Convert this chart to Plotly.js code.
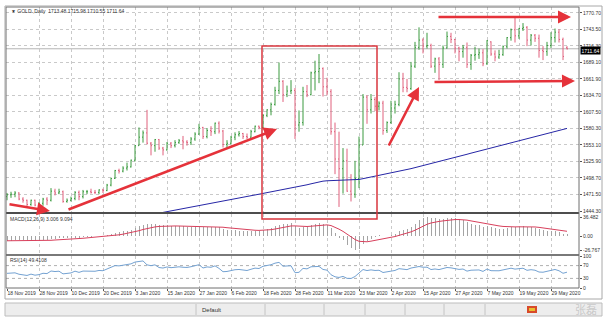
<!DOCTYPE html>
<html><head><meta charset="utf-8">
<script src="https://cdn.plot.ly/plotly-3.0.1.min.js"></script>
<style>html,body{margin:0;padding:0;background:#fff;}#chart{width:613px;height:323px;}</style>
</head><body><div id="chart"></div>
<script>
// ---------- data ----------
const dates = [
'18 Nov 2019','19 Nov 2019','20 Nov 2019','21 Nov 2019','22 Nov 2019','25 Nov 2019','26 Nov 2019','27 Nov 2019','28 Nov 2019','29 Nov 2019',
'2 Dec 2019','3 Dec 2019','4 Dec 2019','5 Dec 2019','6 Dec 2019','9 Dec 2019','10 Dec 2019','11 Dec 2019','12 Dec 2019','13 Dec 2019','16 Dec 2019','17 Dec 2019','18 Dec 2019','19 Dec 2019','20 Dec 2019','23 Dec 2019','24 Dec 2019','26 Dec 2019','27 Dec 2019','30 Dec 2019','31 Dec 2019',
'2 Jan 2020','3 Jan 2020','6 Jan 2020','7 Jan 2020','8 Jan 2020','9 Jan 2020','10 Jan 2020','13 Jan 2020','14 Jan 2020','15 Jan 2020','16 Jan 2020','17 Jan 2020','20 Jan 2020','21 Jan 2020','22 Jan 2020','23 Jan 2020','24 Jan 2020','27 Jan 2020','28 Jan 2020','29 Jan 2020','30 Jan 2020','31 Jan 2020',
'3 Feb 2020','4 Feb 2020','5 Feb 2020','6 Feb 2020','7 Feb 2020','10 Feb 2020','11 Feb 2020','12 Feb 2020','13 Feb 2020','14 Feb 2020','17 Feb 2020','18 Feb 2020','19 Feb 2020','20 Feb 2020','21 Feb 2020','24 Feb 2020','25 Feb 2020','26 Feb 2020','27 Feb 2020','28 Feb 2020',
'2 Mar 2020','3 Mar 2020','4 Mar 2020','5 Mar 2020','6 Mar 2020','9 Mar 2020','10 Mar 2020','11 Mar 2020','12 Mar 2020','13 Mar 2020','16 Mar 2020','17 Mar 2020','18 Mar 2020','19 Mar 2020','20 Mar 2020','23 Mar 2020','24 Mar 2020','25 Mar 2020','26 Mar 2020','27 Mar 2020','30 Mar 2020','31 Mar 2020',
'1 Apr 2020','2 Apr 2020','3 Apr 2020','6 Apr 2020','7 Apr 2020','8 Apr 2020','9 Apr 2020','13 Apr 2020','14 Apr 2020','15 Apr 2020','16 Apr 2020','17 Apr 2020','20 Apr 2020','21 Apr 2020','22 Apr 2020','23 Apr 2020','24 Apr 2020','27 Apr 2020','28 Apr 2020','29 Apr 2020','30 Apr 2020',
'1 May 2020','4 May 2020','5 May 2020','6 May 2020','7 May 2020','8 May 2020','11 May 2020','12 May 2020','13 May 2020','14 May 2020','15 May 2020','18 May 2020','19 May 2020','20 May 2020','21 May 2020','22 May 2020','25 May 2020','26 May 2020','27 May 2020','28 May 2020','29 May 2020',
'1 Jun 2020','2 Jun 2020','3 Jun 2020','4 Jun 2020'];

const open = [1468,1471,1472,1474,1464,1462,1455,1462,1454,1457,
1464,1462,1477,1474,1476,1460,1462,1465,1475,1468,1476,1476,1475,1475,1479,1478,1487,1498,1511,1510,1515,
1517,1528,1552,1566,1573,1556,1552,1562,1548,1545,1556,1552,1557,1560,1558,1557,1563,1571,1582,1567,1577,1575,
1589,1576,1554,1556,1566,1570,1572,1567,1566,1575,1584,1582,1602,1611,1620,1643,1658,1636,1642,1643,
1586,1590,1641,1636,1672,1674,1679,1649,1641,1575,1530,1514,1527,1477,1472,1498,1553,1632,1611,1628,1617,1622,
1577,1590,1614,1620,1662,1648,1646,1683,1714,1726,1716,1717,1683,1695,1686,1713,1732,1727,1713,1707,1714,
1686,1701,1702,1705,1687,1723,1703,1698,1702,1715,1730,1743,1733,1745,1747,1726,1734,1729,1709,1707,1717,
1730,1739,1727,1713.48];
const high = [1474,1476,1477,1475,1467,1463,1463,1463,1459,1466,
1467,1482,1481,1481,1478,1465,1468,1477,1478,1479,1479,1481,1479,1480,1481,1489,1499,1512,1514,1518,1524,
1529,1553,1582,1577,1611,1558,1563,1563,1550,1558,1558,1561,1563,1568,1561,1566,1574,1588,1583,1581,1584,1590,
1592,1578,1561,1568,1574,1576,1573,1572,1578,1585,1585,1604,1612,1623,1649,1689,1660,1651,1660,1647,
1610,1649,1652,1674,1692,1703,1681,1664,1645,1590,1575,1548,1547,1505,1527,1567,1637,1635,1637,1632,1625,1626,
1592,1626,1626,1673,1672,1662,1690,1723,1747,1729,1738,1720,1697,1698,1717,1740,1738,1728,1715,1718,1722,
1703,1715,1712,1711,1726,1724,1709,1710,1717,1731,1745,1765,1746,1754,1749,1736,1736,1735,1716,1723,1739,
1745,1744,1730,1715.98];
const low = [1462,1466,1467,1462,1458,1451,1453,1452,1453,1453,
1454,1460,1470,1472,1458,1458,1460,1462,1462,1465,1472,1473,1472,1472,1474,1477,1485,1497,1506,1508,1511,
1516,1526,1552,1557,1554,1536,1542,1545,1536,1544,1548,1549,1555,1546,1552,1553,1560,1570,1563,1564,1568,1571,
1572,1549,1547,1554,1561,1567,1563,1563,1565,1574,1579,1579,1599,1602,1618,1637,1624,1632,1637,1563,
1575,1585,1632,1635,1643,1655,1633,1635,1570,1505,1451,1473,1476,1460,1466,1482,1553,1588,1605,1609,1610,1570,
1573,1588,1605,1617,1640,1640,1644,1680,1710,1704,1712,1680,1672,1660,1680,1712,1721,1704,1691,1697,1680,
1677,1692,1695,1683,1685,1700,1691,1695,1700,1712,1725,1722,1728,1741,1716,1717,1723,1697,1693,1700,1713,
1722,1722,1693,1710.55];
const close = [1471,1472,1474,1464,1462,1455,1462,1454,1457,1464,
1462,1477,1474,1476,1460,1462,1465,1475,1468,1476,1476,1475,1475,1479,1478,1487,1498,1511,1510,1515,1517,
1528,1552,1566,1573,1556,1552,1562,1548,1545,1556,1552,1557,1560,1558,1557,1563,1571,1582,1567,1577,1575,1589,
1576,1554,1556,1566,1570,1572,1567,1566,1575,1584,1582,1602,1611,1620,1643,1658,1636,1642,1643,1586,
1590,1641,1636,1672,1674,1679,1649,1641,1575,1530,1514,1527,1477,1472,1498,1553,1632,1611,1628,1617,1622,1577,
1590,1614,1620,1662,1648,1646,1683,1714,1726,1716,1717,1683,1695,1686,1713,1732,1727,1713,1707,1714,1686,
1701,1702,1705,1687,1725,1703,1698,1702,1715,1730,1743,1733,1745,1747,1726,1734,1729,1709,1707,1717,1730,
1739,1727,1699,1711.64];

// blue moving average (only visible from late January on)
const maLine = [null,null,null,null,null,null,null,null,null,null,
null,null,null,null,null,null,null,null,null,null,null,null,null,null,null,null,null,null,null,null,null,
null,null,null,null,null,1438.2,1439.5,1440.8,1442.1,1443.4,1444.7,1446.0,1447.2,1448.5,1449.8,1451.1,1452.4,1453.7,1455.0,1456.2,1457.5,1458.8,
1460.0,1461.2,1462.4,1463.6,1464.8,1466.0,1467.1,1468.3,1469.5,1470.7,1471.9,1473.1,1474.3,1475.5,1476.8,1478.1,1479.3,1480.5,1481.8,1483.0,
1484.3,1485.9,1487.5,1489.1,1490.7,1492.2,1493.5,1494.1,1494.4,1494.6,1494.8,1495.0,1495.2,1495.4,1495.7,1496.3,1497.6,1498.9,1500.2,1501.5,1502.8,1504.0,
1505.2,1506.4,1507.7,1509.0,1510.6,1512.3,1514.1,1515.8,1517.4,1519.2,1520.9,1522.5,1524.3,1526.0,1527.6,1529.4,1531.1,1532.7,1534.5,1536.2,1537.8,
1539.6,1541.3,1542.9,1544.7,1546.4,1548.0,1549.8,1551.5,1553.1,1554.9,1556.6,1558.2,1560.0,1561.7,1563.3,1565.1,1566.8,1568.4,1570.2,1571.9,1573.5,
1575.3,1577.0,1578.6,1580.4];

const macdMain = [-9.5,-8.8,-8.1,-8.3,-8.5,-9.1,-8.9,-9.3,-9.2,-8.5,
-8.0,-6.4,-5.2,-4.1,-4.5,-4.6,-4.3,-3.3,-3.0,-2.1,-1.4,-0.9,-0.5,0.2,0.6,1.6,3.3,5.6,7.3,8.9,10.2,
12.0,15.2,18.6,21.7,22.4,22.5,23.1,22.1,20.9,20.5,19.7,19.3,18.9,18.3,17.5,17.2,17.4,18.2,17.4,17.4,17.0,17.7,
16.9,14.4,12.4,11.5,11.0,10.6,9.8,9.0,9.0,9.6,9.8,11.4,13.3,15.3,18.5,22.1,22.8,23.7,24.1,19.6,
16.2,17.4,17.8,20.7,23.0,24.9,23.7,21.8,14.9,5.7,-2.9,-8.5,-16.8,-23.5,-26.767,-24.0,-15.3,-10.3,-4.8,-1.4,1.7,0.6,
0.7,2.7,4.7,9.6,12.2,14.0,18.1,23.6,31.2,34.5,36.482,35.0,34.3,32.6,33.2,34.6,35.0,33.8,31.8,30.5,26.9,
23.2,21.7,20.4,17.8,18.5,17.1,15.5,14.3,14.3,15.3,17.0,17.3,18.2,19.0,17.6,17.0,16.0,13.4,11.0,9.9,9.9,
9.0,8.0,4.5,3.006];
const macdSignal = [-9.1,-9.1,-8.9,-8.8,-8.7,-8.8,-8.8,-8.9,-9.0,-8.9,
-8.7,-8.2,-7.6,-6.9,-6.5,-6.1,-5.7,-5.2,-4.8,-4.3,-3.7,-3.1,-2.6,-2.0,-1.5,-0.9,0.0,1.1,2.3,3.6,5.0,
6.4,8.1,10.2,12.5,14.5,16.1,17.5,18.4,18.9,19.2,19.3,19.3,19.2,19.1,18.8,18.4,18.2,18.2,18.0,17.9,17.7,17.7,
17.6,16.9,16.0,15.1,14.3,13.6,12.8,12.1,11.4,11.1,10.8,10.9,11.4,12.2,13.4,15.2,16.7,18.1,19.3,19.4,
18.7,18.5,18.3,18.8,19.7,20.7,21.3,21.4,20.1,17.2,13.2,8.9,3.7,-1.7,-6.7,-10.1,-11.2,-11.0,-9.8,-8.1,-6.1,-4.8,
-3.7,-2.4,-1.0,1.1,3.4,5.5,8.0,11.1,15.1,19.0,22.5,25.0,26.9,28.0,29.0,30.1,31.1,31.6,31.6,31.4,30.5,
29.0,27.5,26.1,24.4,23.2,22.0,20.7,19.4,18.4,17.8,17.6,17.5,17.7,17.9,17.9,17.7,17.4,16.6,15.5,14.4,13.5,
12.6,11.7,10.2,9.094];

const rsi14 = [45.8,46.3,47.4,43.0,42.1,39.2,43.4,40.0,41.8,46.0,
45.0,53.1,51.4,52.5,44.2,45.4,47.1,52.6,48.8,52.9,53.0,52.3,52.3,54.8,54.0,59.4,64.8,70.0,69.1,71.0,71.6,
75.4,81.1,83.6,84.6,72.4,69.8,72.4,64.0,62.3,65.8,63.5,65.1,66.2,64.8,64.2,66.5,69.3,72.8,62.5,65.9,64.7,69.2,
61.3,50.9,51.7,55.6,57.1,57.9,55.2,54.7,58.6,62.1,60.9,67.9,70.4,72.7,77.6,80.1,68.1,69.4,69.6,47.8,
49.0,61.3,59.8,66.3,66.6,67.4,58.0,55.8,41.5,35.0,33.0,36.2,30.2,29.7,35.9,46.7,57.7,54.5,56.6,54.8,55.5,48.4,
50.4,53.9,54.8,60.4,57.8,57.4,62.3,65.8,67.1,64.9,65.0,57.7,59.4,57.5,61.5,64.1,62.9,59.6,58.1,59.3,52.7,
55.6,55.8,56.4,51.8,59.3,54.1,52.9,53.8,56.5,59.5,61.9,59.0,61.4,61.8,55.3,57.2,55.6,49.9,49.3,52.2,55.6,
57.9,53.9,46.0,49.4108];

const tickDates = ['18 Nov 2019','28 Nov 2019','10 Dec 2019','20 Dec 2019','3 Jan 2020','15 Jan 2020','27 Jan 2020','6 Feb 2020',
'18 Feb 2020','28 Feb 2020','11 Mar 2020','23 Mar 2020','2 Apr 2020','15 Apr 2020','27 Apr 2020','7 May 2020','19 May 2020','29 May 2020'];
const priceTicks = [1444.30,1471.50,1498.70,1525.90,1553.10,1580.30,1607.50,1634.70,1661.90,1689.10,1716.30,1743.50,1770.70];
const macdTicks = [36.482,0,-26.767];
const macdTickText = ['36.482','0.00','-26.767'];
const rsiTicks = [100,70,30,0];
const rsiLevels = [70,30];

// ---------- geometry helpers (pixel -> paper) ----------
const PL=6, PR=579, PT=7, PB=288;
const px = X => (X-PL)/(PR-PL);
const py = Y => (PB-Y)/(PB-PT);

const last = dates.length-1;
const f2 = v => v.toFixed(2);

const traces = [
  {type:'ohlc', x:dates, open:open, high:high, low:low, close:close, xaxis:'x', yaxis:'y',
   increasing:{line:{color:'#3a9a3f', width:1}}, decreasing:{line:{color:'#e0607c', width:1}},
   tickwidth:0.25, hoverinfo:'skip'},
  {type:'scatter', mode:'lines', x:dates, y:maLine, xaxis:'x', yaxis:'y',
   line:{color:'#2626a6', width:1}, hoverinfo:'skip', connectgaps:false},
  {type:'bar', x:dates, y:macdMain, xaxis:'x', yaxis:'y2', width:0.25,
   marker:{color:'#a4a4a4', line:{width:0}}, hoverinfo:'skip'},
  {type:'scatter', mode:'lines', x:dates, y:macdSignal, xaxis:'x', yaxis:'y2',
   line:{color:'#d8405c', width:1}, hoverinfo:'skip'},
  {type:'scatter', mode:'lines', x:dates, y:rsi14, xaxis:'x', yaxis:'y3',
   line:{color:'#74a2d2', width:1}, hoverinfo:'skip'}
];

const gridC = '#c9c9c9';
const tickFont = {family:'Liberation Sans, Arial, sans-serif', size:5, color:'#333'};

const shapes = [
  {type:'line', xref:'paper', yref:'y', x0:0, x1:1, y0:close[last], y1:close[last], line:{color:'#b4b4b4', width:1}, layer:'below'},
  ...rsiLevels.map(v => ({type:'line', xref:'paper', yref:'y3', x0:0, x1:1, y0:v, y1:v, line:{color:'#b0b0b0', width:1, dash:'dot'}, layer:'below'})),
  {type:'line', xref:'paper', yref:'paper', x0:0, x1:1, y0:py(213), y1:py(213), line:{color:'#4d4d4d', width:2}},
  {type:'line', xref:'paper', yref:'paper', x0:0, x1:1, y0:py(255), y1:py(255), line:{color:'#4d4d4d', width:1.5}},
  {type:'rect', xref:'paper', yref:'paper', x0:0, x1:1, y0:0, y1:1, line:{color:'#6e6e6e', width:1}},
  {type:'rect', xref:'paper', yref:'paper', x0:px(5), x1:px(602), y0:py(299), y1:py(6), line:{color:'#a8a8a8', width:1}},
  {type:'rect', xref:'paper', yref:'paper', x0:px(5), x1:px(602), y0:py(316), y1:py(303), fillcolor:'#ededed', line:{color:'#bdbdbd', width:1}},
  ...[196,265,324,365,405,444,485].map(X => ({type:'line', xref:'paper', yref:'paper', x0:px(X), x1:px(X), y0:py(315), y1:py(304), line:{color:'#c4c4c4', width:1}})),
  {type:'rect', xref:'paper', yref:'paper', x0:px(527), x1:px(537), y0:py(313), y1:py(306), fillcolor:'#d84a2a', line:{width:0}},
  {type:'rect', xref:'paper', yref:'paper', x0:px(529), x1:px(535), y0:py(311), y1:py(308), fillcolor:'#e8c030', line:{width:0}},
  {type:'rect', xref:'paper', yref:'paper', x0:px(262), x1:px(377), y0:py(219), y1:py(46), line:{color:'#d9363e', width:1.5}}
];

function arrow(tx,ty,hx,hy){
  return {xref:'paper', yref:'paper', x:px(hx), y:py(hy), ax:tx-hx, ay:ty-hy, axref:'pixel', ayref:'pixel',
    text:'', showarrow:true, arrowhead:2, arrowsize:1, arrowwidth:2.6, arrowcolor:'#e5323a', standoff:0, startstandoff:0};
}

const annotations = [
  {xref:'paper', yref:'paper', x:px(9), y:py(10.5), xanchor:'left', yanchor:'middle', showarrow:false,
   text:'▼ GOLD.,Daily  '+[open[last],high[last],low[last],close[last]].map(f2).join(' '), font:tickFont},
  {xref:'paper', yref:'paper', x:px(8), y:py(218.5), xanchor:'left', yanchor:'middle', showarrow:false,
   text:'MACD(12,26,9) '+macdMain[last].toFixed(3)+' '+macdSignal[last].toFixed(3), font:tickFont},
  {xref:'paper', yref:'paper', x:px(8), y:py(259.5), xanchor:'left', yanchor:'middle', showarrow:false,
   text:'RSI(14) '+rsi14[last].toFixed(4), font:tickFont},
  {xref:'paper', yref:'y', x:px(580), y:close[last], xanchor:'left', yanchor:'top', yshift:3, showarrow:false,
   text:f2(close[last]), bgcolor:'#000', borderpad:0.5, font:{family:'Liberation Sans, Arial, sans-serif', size:5, color:'#fff'}},
  {xref:'paper', yref:'paper', x:px(211), y:py(309.5), xanchor:'center', yanchor:'middle', showarrow:false,
   text:'Default', font:{family:'Liberation Sans, Arial, sans-serif', size:6, color:'#333'}},
  {xref:'paper', yref:'paper', x:px(586), y:py(309), xanchor:'center', yanchor:'middle', showarrow:false,
   text:'张磊', font:{family:'Noto Sans CJK SC, sans-serif', size:11, color:'rgba(170,170,170,0.55)'}},
  arrow(8,204,50,211),
  arrow(67,210,277,129),
  arrow(388,147,419,87),
  arrow(437,17,571,17),
  arrow(433,82,575,81)
];

const layout = {
  width:613, height:323,
  margin:{l:PL, r:613-PR, t:PT, b:323-PB, pad:0},
  paper_bgcolor:'#ffffff', plot_bgcolor:'#ffffff',
  showlegend:false, bargap:0,
  font:tickFont,
  xaxis:{type:'category', range:[-0.25,143], anchor:'y3', tickmode:'array', tickvals:tickDates, ticktext:tickDates,
    tickangle:0, ticks:'outside', ticklen:2, tickcolor:'#555', ticklabelposition:'outside right', tickfont:tickFont,
    showgrid:true, gridcolor:gridC, griddash:'dot', gridwidth:1, showline:false, zeroline:false,
    rangeslider:{visible:false}, fixedrange:true},
  yaxis:{domain:[py(212),1], range:[1442.65,1780.5], side:'right', anchor:'x', tickmode:'array',
    tickvals:priceTicks, ticktext:priceTicks.map(f2), ticks:'outside', ticklen:2, tickcolor:'#555', tickfont:tickFont,
    showgrid:true, gridcolor:gridC, griddash:'dot', gridwidth:1, zeroline:false, showline:false},
  yaxis2:{domain:[py(254),py(214)], range:[-34.43,42.23], side:'right', anchor:'x', tickmode:'array',
    tickvals:macdTicks, ticktext:macdTickText, ticks:'outside', ticklen:2, tickcolor:'#555', tickfont:tickFont,
    showgrid:false, zeroline:false, showline:false},
  yaxis3:{domain:[0,py(256)], range:[0,100], side:'right', anchor:'x', tickmode:'array',
    tickvals:rsiTicks, ticktext:rsiTicks.map(String), ticks:'outside', ticklen:2, tickcolor:'#555', tickfont:tickFont,
    showgrid:false, zeroline:false, showline:false},
  shapes:shapes,
  annotations:annotations
};

Plotly.newPlot('chart', traces, layout, {staticPlot:true, displayModeBar:false});
</script>
</body></html>
